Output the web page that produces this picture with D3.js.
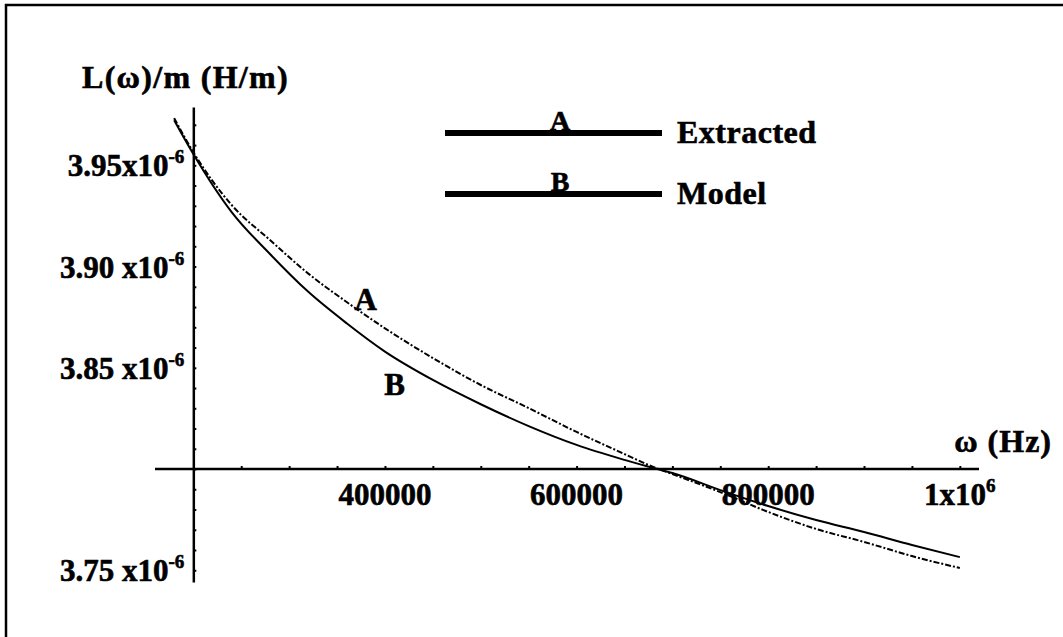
<!DOCTYPE html>
<html>
<head>
<meta charset="utf-8">
<script src="https://cdnjs.cloudflare.com/ajax/libs/d3/7.8.5/d3.min.js"></script>
<style>
body { margin: 0; background: #fff; }
text { font-family: "Liberation Serif", "Times New Roman", serif; font-weight: bold; fill: #000; stroke: #000; stroke-width: 0.6px; }
.axis path, .axis line { stroke: #000; }
</style>
</head>
<body>
<script>
// frequency samples (Hz) and inductance per unit length (H/m)
var omega = [180000, 200000, 240000, 280000, 320000, 360000, 400000, 450000, 500000, 550000,
             600000, 650000, 680000, 700000, 750000, 800000, 850000, 900000, 950000, 1000000];
var extracted = [3.9733e-6, 3.9565e-6, 3.9304e-6, 3.9131e-6, 3.8965e-6, 3.8825e-6, 3.8695e-6, 3.8548e-6, 3.8415e-6, 3.8301e-6,
                 3.8183e-6, 3.8074e-6, 3.8010e-6, 3.7975e-6, 3.7886e-6, 3.7788e-6, 3.7704e-6, 3.7640e-6, 3.7570e-6, 3.7511e-6];
var model = [3.9723e-6, 3.9556e-6, 3.9269e-6, 3.9062e-6, 3.8875e-6, 3.8720e-6, 3.8580e-6, 3.8440e-6, 3.8320e-6, 3.8212e-6,
             3.8119e-6, 3.8045e-6, 3.8005e-6, 3.7980e-6, 3.7896e-6, 3.7817e-6, 3.7748e-6, 3.7689e-6, 3.7625e-6, 3.7565e-6];

var yTicks = [3.95e-6, 3.90e-6, 3.85e-6, 3.75e-6];
var yTickLabels = ["3.95x10", "3.90 x10", "3.85 x10", "3.75 x10"];
var xTicks = [400000, 600000, 800000, 1000000];
var xTickLabels = ["400000", "600000", "800000", "1x10"];
var xTickSups = ["", "", "", "6"];

var legendKeys = ["A", "B"],
    legendNames = ["Extracted", "Model"];

var width = 1063,
    height = 637;

var x = d3.scaleLinear().domain([160000, 1020000]).range([155, 979]),
    y = d3.scaleLinear().domain([3.7442e-6, 3.9788e-6]).range([582, 107]);

var svg = d3.select("body").append("svg")
    .attr("width", width)
    .attr("height", height);

// scan frame (top and left edges)
svg.append("path")
    .attr("d", "M6," + height + "V5H" + width)
    .attr("fill", "none")
    .attr("stroke", "#000")
    .attr("stroke-width", 2.5);

// x axis: long line crossing at 3.80e-6 with small upward ticks
var xAxisY = y(3.80e-6);
svg.append("line")
    .attr("x1", x.range()[0])
    .attr("x2", x.range()[1])
    .attr("y1", xAxisY)
    .attr("y2", xAxisY)
    .attr("stroke", "#000")
    .attr("stroke-width", 2.5);

svg.append("g")
    .attr("class", "x axis")
    .attr("transform", "translate(0," + xAxisY + ")")
    .call(d3.axisTop(x)
        .tickValues(d3.range(5, 21).map(function(d) { return d * 50000; }))
        .tickSize(3)
        .tickFormat(""))
    .call(function(g) { g.select(".domain").remove(); })
    .selectAll("line").attr("stroke-width", 2);

// y axis at 200000 Hz, ticks pointing right
svg.append("g")
    .attr("class", "y axis")
    .attr("transform", "translate(" + x(200000) + ",0)")
    .call(d3.axisRight(y)
        .tickValues(d3.range(375, 398).map(function(d) { return d * 1e-8; }))
        .tickSize(3)
        .tickSizeOuter(0)
        .tickFormat(""))
    .call(function(g) {
        g.select(".domain").attr("stroke-width", 2.5);
        g.selectAll("line").attr("stroke-width", 2);
    });

// y tick labels with superscript exponent
var yl = svg.selectAll(".ylabel")
    .data(yTicks)
  .enter().append("text")
    .attr("class", "ylabel")
    .attr("x", x(200000) - 9)
    .attr("y", function(d) { return y(d) + 11; })
    .attr("text-anchor", "end")
    .style("font-size", "31px");
yl.append("tspan").text(function(d, i) { return yTickLabels[i]; });
yl.append("tspan")
    .attr("dy", -13)
    .style("font-size", "19px")
    .text("-6");

// x tick labels
var xl = svg.selectAll(".xlabel")
    .data(xTicks)
  .enter().append("text")
    .attr("class", "xlabel")
    .attr("x", function(d) { return x(d); })
    .attr("y", xAxisY + 36)
    .attr("text-anchor", "middle")
    .style("font-size", "31px");
xl.append("tspan").text(function(d, i) { return xTickLabels[i]; });
xl.append("tspan")
    .attr("dy", -13)
    .style("font-size", "19px")
    .text(function(d, i) { return xTickSups[i]; });

// axis titles
svg.append("text")
    .attr("x", 82)
    .attr("y", 88)
    .style("font-size", "32px")
    .style("letter-spacing", "1.3px")
    .text("L(\u03c9)/m (H/m)");

svg.append("text")
    .attr("x", 1052)
    .attr("y", 452)
    .attr("text-anchor", "end")
    .style("font-size", "32px")
    .style("letter-spacing", "1px")
    .text("\u03c9 (Hz)");

// curves
var line = d3.line()
    .x(function(d) { return x(d[0]); })
    .y(function(d) { return y(d[1]); })
    .curve(d3.curveMonotoneX);

svg.append("path")
    .datum(d3.zip(omega, extracted))
    .attr("fill", "none")
    .attr("stroke", "#000")
    .attr("stroke-width", 2)
    .attr("stroke-dasharray", "6,2,2,2")
    .attr("d", line);

svg.append("path")
    .datum(d3.zip(omega, model))
    .attr("fill", "none")
    .attr("stroke", "#000")
    .attr("stroke-width", 2)
    .attr("d", line);

// curve labels
svg.append("text")
    .attr("x", x(380000))
    .attr("y", y(3.8785e-6))
    .attr("text-anchor", "middle")
    .style("font-size", "31px")
    .text("A");

svg.append("text")
    .attr("x", x(410000))
    .attr("y", y(3.8366e-6))
    .attr("text-anchor", "middle")
    .style("font-size", "31px")
    .text("B");

// legend
var legend = svg.selectAll(".legend")
    .data(legendKeys)
  .enter().append("g")
    .attr("class", "legend")
    .attr("transform", function(d, i) { return "translate(445," + (133 + i * 61) + ")"; });

legend.append("line")
    .attr("x1", 0)
    .attr("x2", 217)
    .attr("stroke", "#000")
    .attr("stroke-width", 6);

legend.append("text")
    .attr("x", 115)
    .attr("y", -3)
    .attr("text-anchor", "middle")
    .style("font-size", "28px")
    .text(String);

legend.append("text")
    .attr("x", 232)
    .attr("y", 10)
    .style("font-size", "32px")
    .style("letter-spacing", "0.5px")
    .text(function(d, i) { return legendNames[i]; });
</script>
</body>
</html>
